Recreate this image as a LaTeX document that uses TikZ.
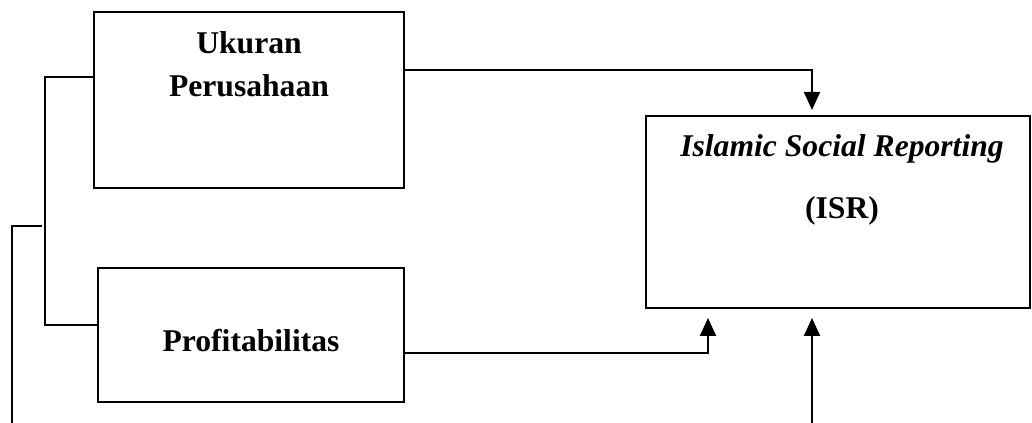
\documentclass[tikz,border=0pt]{standalone}
\usepackage{fontspec}
\setmainfont{Liberation Serif}
\usepackage{tikz}
\usetikzlibrary{arrows.meta}
\tikzset{
	box/.style={draw, line width=0.9pt, inner sep=0pt},
	lbl/.style={inner sep=0pt, font=\fontsize{18}{24.4}\selectfont\bfseries},
	link/.style={line width=1.1pt},
	arr/.style={line width=1.1pt, -{Triangle[width=0.32cm,length=0.36cm]}}
}

\begin{document}
\begin{tikzpicture}
	\useasboundingbox (0,0) rectangle (20.64,8.46);
	\node[box, minimum width=6.2cm, minimum height=3.52cm] (ukuran) at (4.98,6.46) {};
	\node[box, minimum width=6.12cm, minimum height=2.68cm] (profit) at (5.02,1.76) {};
	\node[box, minimum width=7.68cm, minimum height=3.84cm] (isr) at (16.76,4.22) {};
	\node[lbl, align=center, anchor=north] (ukurantxt) at ([yshift=-0.4cm]ukuran.north) {Ukuran\\Perusahaan};
	\node[lbl, anchor=base] (profittxt) at ([yshift=-0.34cm]profit.center) {Profitabilitas};
	\node[lbl, anchor=base] (isrtxt) at ([xshift=0.08cm,yshift=-0.82cm]isr.north) {\itshape Islamic Social Reporting};
	\node[lbl, anchor=base] (israbbr) at ([xshift=0.08cm,yshift=-2.06cm]isr.north) {(ISR)};
	\coordinate (brk) at (0.90,4.4);
	\coordinate (stub) at (0.84,3.94);
	\coordinate (stubend) at (0.24,0);
	\coordinate (inA) at (16.24,6.14);
	\coordinate (inB) at (14.16,2.30);
	\coordinate (inC) at (16.24,2.30);
	\coordinate (bot) at (16.24,0);
	\draw[link] ([yshift=0.46cm]ukuran.west) -| (brk) |- ([yshift=0.2cm]profit.west);
	\draw[link] (stub) -| (stubend);
	\draw[arr, shorten >=0.12cm] ([yshift=0.6cm]ukuran.east) -| (inA);
	\draw[arr, shorten >=0.2cm] ([yshift=-0.36cm]profit.east) -| (inB);
	\draw[arr, shorten >=0.2cm] (bot) -- (inC);
\end{tikzpicture}
\end{document}
